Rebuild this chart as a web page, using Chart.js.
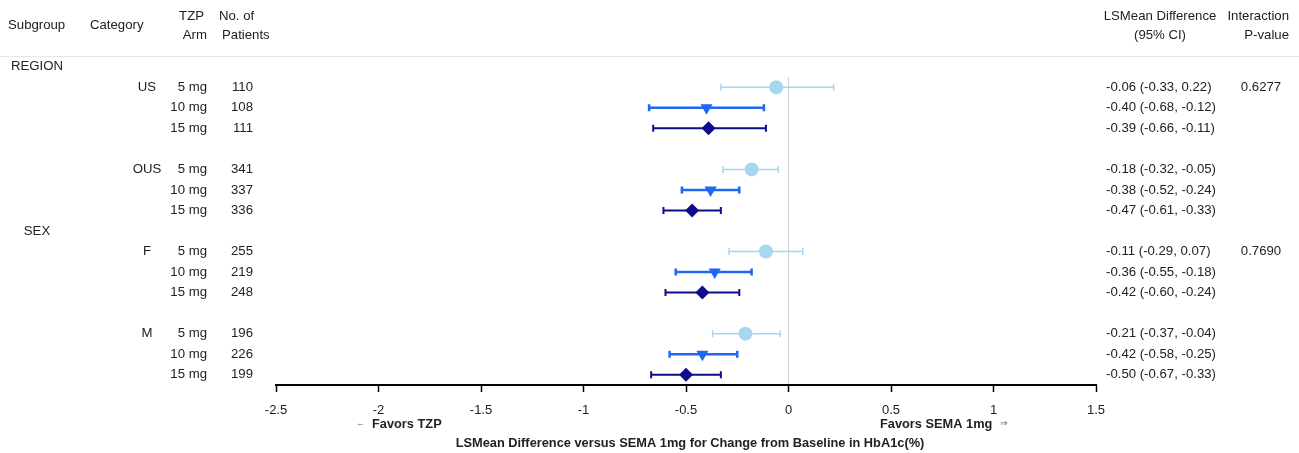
<!DOCTYPE html>
<html>
<head>
<meta charset="utf-8">
<script src="https://cdn.jsdelivr.net/npm/chart.js@4"></script>
<style>
  html, body { margin: 0; padding: 0; background: #fff; }
  #wrap { width: 1299px; height: 453px; }
</style>
</head>
<body>
<div id="wrap"><canvas id="forest"></canvas></div>
<script>
// chart values
var subgroups = ['REGION', 'SEX'];
var subgroupRows = [0, 8];
var categories = ['US', 'OUS', 'F', 'M'];
var categoryRows = [1, 5, 9, 13];
var doses = ['5 mg', '10 mg', '15 mg'];
var rows = [1, 2, 3, 5, 6, 7, 9, 10, 11, 13, 14, 15];
var patients = [110, 108, 111, 341, 337, 336, 255, 219, 248, 196, 226, 199];
var estimates = [-0.06, -0.40, -0.39, -0.18, -0.38, -0.47, -0.11, -0.36, -0.42, -0.21, -0.42, -0.50];
var lower = [-0.33, -0.68, -0.66, -0.32, -0.52, -0.61, -0.29, -0.55, -0.60, -0.37, -0.58, -0.67];
var upper = [0.22, -0.12, -0.11, -0.05, -0.24, -0.33, 0.07, -0.18, -0.24, -0.04, -0.25, -0.33];
var pValues = ['0.6277', '0.7690'];
var xTicks = [-2.5, -2, -1.5, -1, -0.5, 0, 0.5, 1, 1.5];

var doseColors = ['#a6d7f0', '#1f66f2', '#0c0c8c'];
var doseStyles = ['circle', 'triangle', 'rectRot'];
var doseRadius = [7, 7, 7];
var doseRotation = [0, 180, 0];
var barWidths = [1.5, 2.5, 2];

var FONT = '"Liberation Sans", Arial, sans-serif';

function fmt(v) { return v.toFixed(2); }

function buildDatasets() {
    var sets = [];
    doses.forEach(function (d, k) {
        var pts = [];
        for (var i = k; i < estimates.length; i += doses.length) {
            pts.push({ x: estimates[i], y: rows[i], lo: lower[i], hi: upper[i] });
        }
        sets.push({
            label: d,
            data: pts,
            pointStyle: doseStyles[k],
            pointRadius: doseRadius[k],
            pointRotation: doseRotation[k],
            backgroundColor: doseColors[k],
            borderColor: doseColors[k],
            borderWidth: 0,
            showLine: false
        });
    });
    return sets;
}

// whiskers + side table text
var forestPlugin = {
    id: 'forest',
    beforeDatasetsDraw: function (chart) {
        var ctx = chart.ctx, xs = chart.scales.x, ys = chart.scales.y;
        ctx.save();
        chart.data.datasets.forEach(function (ds, k) {
            ctx.strokeStyle = doseColors[k];
            ctx.lineWidth = barWidths[k];
            ds.data.forEach(function (p) {
                var y = ys.getPixelForValue(p.y);
                var x1 = xs.getPixelForValue(p.lo), x2 = xs.getPixelForValue(p.hi);
                ctx.beginPath();
                ctx.moveTo(x1, y); ctx.lineTo(x2, y);
                ctx.moveTo(x1, y - 3.5); ctx.lineTo(x1, y + 3.5);
                ctx.moveTo(x2, y - 3.5); ctx.lineTo(x2, y + 3.5);
                ctx.stroke();
            });
        });
        ctx.restore();
    },
    afterDraw: function (chart) {
        var ctx = chart.ctx, ys = chart.scales.y;
        ctx.save();
        // header rule
        var hy = Math.round(ys.getPixelForValue(-0.5)) + 0.5;
        ctx.strokeStyle = '#e6e6e6';
        ctx.lineWidth = 1;
        ctx.beginPath(); ctx.moveTo(0, hy); ctx.lineTo(1299, hy); ctx.stroke();

        ctx.fillStyle = '#222';
        ctx.font = '13.2px ' + FONT;
        ctx.textBaseline = 'middle';
        var hRow = ys.getPixelForValue(-2);
        var t = [
            ['Subgroup', 8, hRow, 'left'],
            ['Category', 90, hRow, 'left'],
            ['TZP', 204, hRow - 9.5, 'right'],
            ['Arm', 207, hRow + 9.5, 'right'],
            ['No. of', 219, hRow - 9.5, 'left'],
            ['Patients', 222, hRow + 9.5, 'left'],
            ['LSMean Difference', 1160, hRow - 9.5, 'center'],
            ['(95% CI)', 1160, hRow + 9.5, 'center'],
            ['Interaction', 1289, hRow - 9.5, 'right'],
            ['P-value', 1289, hRow + 9.5, 'right']
        ];
        t.forEach(function (a) {
            ctx.textAlign = a[3];
            ctx.fillText(a[0], a[1], a[2]);
        });

        ctx.textAlign = 'center';
        subgroups.forEach(function (s, i) {
            ctx.fillText(s, 37, ys.getPixelForValue(subgroupRows[i]));
            ctx.fillText(pValues[i], 1261, ys.getPixelForValue(subgroupRows[i] + 1));
        });
        categories.forEach(function (c, i) {
            ctx.fillText(c, 147, ys.getPixelForValue(categoryRows[i]));
        });
        rows.forEach(function (r, i) {
            var y = ys.getPixelForValue(r);
            ctx.textAlign = 'right';
            ctx.fillText(doses[i % doses.length], 207, y);
            ctx.fillText(String(patients[i]), 253, y);
            ctx.textAlign = 'left';
            ctx.fillText(fmt(estimates[i]) + ' (' + fmt(lower[i]) + ', ' + fmt(upper[i]) + ')', 1106, y);
        });

        // favours labels + axis title
        var base = chart.chartArea.bottom;
        ctx.font = 'bold 12.8px ' + FONT;
        ctx.textAlign = 'left';
        ctx.fillText('Favors TZP', 372, base + 39);
        ctx.fillText('Favors SEMA 1mg', 880, base + 39);
        ctx.fillStyle = '#666';
        ctx.font = '9px ' + FONT;
        ctx.fillText('\u2190', 356, base + 39);
        ctx.fillText('\u21D2', 1000, base + 39);
        ctx.fillStyle = '#222';
        ctx.font = 'bold 12.8px ' + FONT;
        ctx.textAlign = 'center';
        ctx.fillText('LSMean Difference versus SEMA 1mg for Change from Baseline in HbA1c(%)', 690, base + 58);
        ctx.restore();
    }
};

var handleForest = function () {
    var ctx = document.getElementById('forest').getContext('2d');
    window.forestChart = new Chart(ctx, {
        type: 'scatter',
        data: { datasets: buildDatasets() },
        plugins: [forestPlugin],
        options: {
            responsive: true,
            maintainAspectRatio: false,
            animation: false,
            layout: { padding: { left: 276, right: 203, top: 77, bottom: 38 } },
            plugins: { legend: { display: false }, tooltip: { enabled: false } },
            scales: {
                x: {
                    type: 'linear',
                    min: xTicks[0],
                    max: xTicks[xTicks.length - 1],
                    afterBuildTicks: function (scale) {
                        scale.ticks = xTicks.map(function (v) { return { value: v }; });
                    },
                    afterFit: function (scale) { scale.height = 30; },
                    grid: {
                        color: function (c) { return c.tick && c.tick.value === 0 ? '#cfcfcf' : 'rgba(0,0,0,0)'; },
                        tickColor: '#000',
                        tickLength: 7,
                        lineWidth: 1,
                        tickWidth: 1.5
                    },
                    border: { color: '#000', width: 2 },
                    ticks: {
                        color: '#222',
                        font: { family: FONT, size: 13 },
                        padding: 11,
                        maxRotation: 0,
                        callback: function (v) { return String(v); }
                    }
                },
                y: {
                    type: 'linear',
                    display: false,
                    reverse: true,
                    min: 0.5,
                    max: 15.5
                }
            }
        }
    });
};

handleForest();
</script>
</body>
</html>
